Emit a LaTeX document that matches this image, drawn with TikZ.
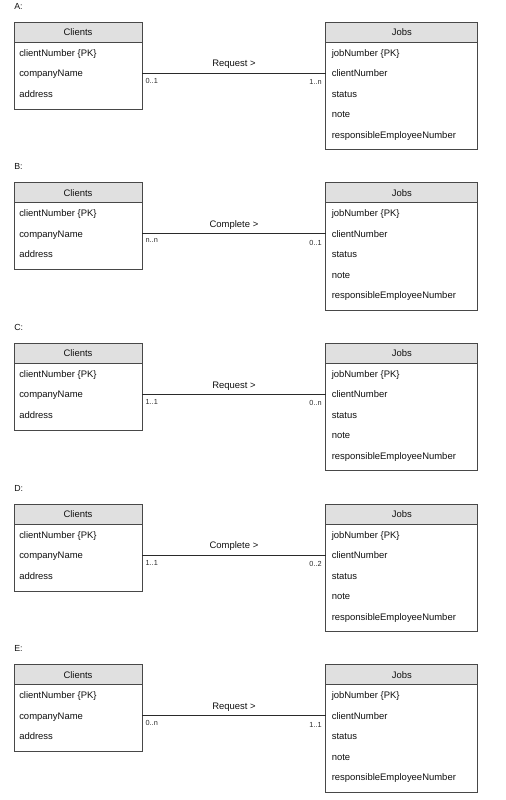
\documentclass[tikz,border=0pt]{standalone}
\usepackage{fontspec}
\setmainfont{Liberation Sans}
\usetikzlibrary{positioning}
\definecolor{headfill}{HTML}{E0E0E0}
\definecolor{boxborder}{HTML}{484848}
\definecolor{darkline}{HTML}{2A2A2A}
\definecolor{bodytext}{HTML}{111111}
\tikzset{
  ent/.style={rectangle, draw=boxborder, line width=0.75pt, inner sep=0pt,
              outer sep=0pt, text=bodytext, font=\fontsize{7.1}{8.5}\selectfont},
  head/.style={ent, fill=headfill, minimum height=15pt},
  body/.style={ent, fill=white},
  attr/.style={anchor=base west, inner sep=0pt, text=bodytext,
               font=\fontsize{7.1}{8.5}\selectfont},
  mult/.style={inner sep=0pt, text=darkline, font=\fontsize{5.5}{6.5}\selectfont},
  relname/.style={inner sep=0pt, text=bodytext, font=\fontsize{7.1}{8.5}\selectfont},
  panel/.style={anchor=west, inner sep=0pt, text=bodytext,
                font=\fontsize{6.6}{7.5}\selectfont},
  assoc/.style={line width=0.75pt, draw=darkline},
}

\begin{document}
\begin{tikzpicture}[x=0.75pt, y=-0.75pt]
\useasboundingbox (0,0) rectangle (506,800);

\foreach \p/\rel/\ml/\mr [count=\i from 0] in
  {A/Request/0..1/1..n, B/Complete/n..n/0..1, C/Request/1..1/0..n,
   D/Complete/1..1/0..2, E/Request/0..n/1..1} {
\begin{scope}[shift={(0,\i*160.7)}]
  % Panel letter
  \node[panel] (lbl\p) at (14,6) {\p:};

  % Clients entity
  \node[head, minimum width=96pt] (cli\p) at (78,32) {Clients};
  \node[body, minimum width=96pt, minimum height=50.25pt, below=0pt of cli\p] (clib\p) {};
  \node[attr] (cli\p a) at (19,56)   {clientNumber \{PK\}};
  \node[attr] (cli\p b) at (19,76.5) {companyName};
  \node[attr] (cli\p c) at (19,97)   {address};

  % Jobs entity
  \node[head, minimum width=113.8pt] (job\p) at (401.8,32) {Jobs};
  \node[body, minimum width=113.8pt, minimum height=80.5pt, below=0pt of job\p] (jobb\p) {};
  \node[attr] (job\p a) at (331.5,56)   {jobNumber \{PK\}};
  \node[attr] (job\p b) at (331.5,76.5) {clientNumber};
  \node[attr] (job\p c) at (331.5,97)   {status};
  \node[attr] (job\p d) at (331.5,117.5) {note};
  \node[attr] (job\p e) at (331.5,138)  {responsibleEmployeeNumber};

  % Association
  \draw[assoc] (clib\p.east |- job\p b) coordinate (ls\p)
    -- (jobb\p.west |- job\p b) coordinate (le\p)
    node[relname, midway, above=3pt] (rel\p) {\rel\ >};
  \node[mult, anchor=north west] (ml\p) at ([xshift=2.5pt, yshift=-3.5pt]ls\p) {\ml};
  \node[mult, anchor=north east] (mr\p) at ([xshift=-3pt, yshift=-4.5pt]le\p) {\mr};
\end{scope}
}

\end{tikzpicture}
\end{document}
